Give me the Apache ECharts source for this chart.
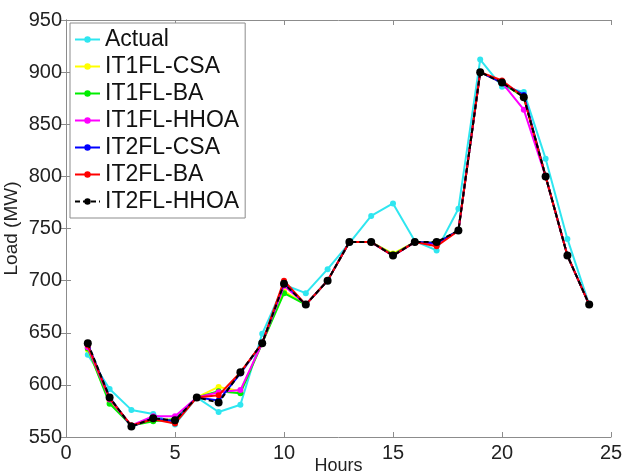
<!DOCTYPE html>
<html>
<head>
<meta charset="utf-8">
<script src="https://cdn.jsdelivr.net/npm/echarts@6/dist/echarts.min.js"></script>
<style>html,body{margin:0;padding:0;background:#fff}#c{width:624px;height:474px}</style>
</head>
<body>
<div id="c"></div>
<script>
var hours = [1,2,3,4,5,6,7,8,9,10,11,12,13,14,15,16,17,18,19,20,21,22,23,24];
var seriesNames = ['Actual','IT1FL-CSA','IT1FL-BA','IT1FL-HHOA','IT2FL-CSA','IT2FL-BA','IT2FL-HHOA'];
var actual     = [629,596,576,572,562,588,574,581,649,696,688,711,736,762,774,738,729,769,912,886,881,817,740,677];
var it1flCSA   = [634,584,561,566,567,588,598,594,640,690,677,700,737,737,726,737,736,748,900,890,876,800,724,677];
var it1flBA    = [635,582,561,565,567,588,594,592,640,688,677,700,737,737,725,737,736,748,900,890,876,800,724,677];
var it1flHHOA  = [636,586,561,570,570,588,593,595,640,695,677,700,737,737,724,737,735,748,900,890,864,800,724,677];
var it2flCSA   = [639,588,560,568,565,588,585,611,640,698,677,700,737,737,724,737,736,748,900,890,878,800,724,677];
var it2flBA    = [638,587,561,567,563,588,590,612,640,700,677,700,737,737,724,737,733,748,900,892,876,800,724,677];
var it2flHHOA  = [640,588,560,568,566,588,583,612,640,697,677,700,737,737,724,737,737,748,900,890,876,800,724,677];
var xTicks = [0,5,10,15,20,25];
var yTicks = [550,600,650,700,750,800,850,900,950];

var allData = [actual, it1flCSA, it1flBA, it1flHHOA, it2flCSA, it2flBA, it2flHHOA];
var colors = ['#2fe6f0','#ffff00','#00ee00','#ff00ff','#0000ff','#ff0000','#000000'];

function pairs(arr){ return hours.map(function(h,i){ return [h, arr[i]]; }); }

var series = allData.map(function(d, i){
  var isBlack = i === 6;
  return {
    name: seriesNames[i],
    type: 'line',
    data: pairs(d),
    symbol: 'circle',
    symbolSize: isBlack ? 8 : 6,
    itemStyle: { color: colors[i] },
    lineStyle: { color: colors[i], width: 2, type: isBlack ? [5,3] : 'solid' },
    z: 2 + i,
    animation: false
  };
});

var font = 'Liberation Sans, Arial, sans-serif';
var chart = echarts.init(document.getElementById('c'), null, {renderer: 'canvas'});
chart.setOption({
  animation: false,
  backgroundColor: '#fff',
  grid: { left: 66, right: 13, top: 20, bottom: 37, containLabel: false, outerBoundsMode: 'none' },
  legend: {
    orient: 'vertical',
    left: 70, top: 23,
    padding: [5, 6, 5, 4],
    itemWidth: 25, itemHeight: 8,
    itemGap: 4,
    backgroundColor: '#fff',
    borderColor: '#8c8c8c', borderWidth: 1,
    textStyle: { fontFamily: font, fontSize: 23, lineHeight: 23, color: '#111' },
    data: seriesNames
  },
  xAxis: [{
    type: 'value', min: 0, max: 25, interval: 5,
    name: 'Hours', nameLocation: 'middle', nameGap: 20, nameMoveOverlap: false,
    nameTextStyle: { fontFamily: font, fontSize: 18, color: '#222' },
    axisLine: { show: true, lineStyle: { color: '#8c8c8c', width: 1 } },
    axisTick: { show: true, inside: true, length: 5, lineStyle: { color: '#8c8c8c' } },
    axisLabel: { fontFamily: font, fontSize: 20, color: '#222', margin: 6,
                 formatter: function(v){ return xTicks.indexOf(v) >= 0 ? String(v) : ''; } },
    splitLine: { show: false }
  },{
    type: 'value', min: 0, max: 25, interval: 5, position: 'top',
    axisLine: { show: true, lineStyle: { color: '#8c8c8c', width: 1 } },
    axisTick: { show: true, inside: true, length: 5, lineStyle: { color: '#8c8c8c' } },
    axisLabel: { show: false }, splitLine: { show: false }
  }],
  yAxis: [{
    type: 'value', min: 550, max: 950, interval: 50,
    name: 'Load (MW)', nameLocation: 'middle', nameGap: 45, nameRotate: 90, nameMoveOverlap: false,
    nameTextStyle: { fontFamily: font, fontSize: 19, color: '#222' },
    axisLine: { show: true, lineStyle: { color: '#8c8c8c', width: 1 } },
    axisTick: { show: true, inside: true, length: 5, lineStyle: { color: '#8c8c8c' } },
    axisLabel: { fontFamily: font, fontSize: 20, color: '#222', margin: 4,
                 formatter: function(v){ return yTicks.indexOf(v) >= 0 ? String(v) : ''; } },
    splitLine: { show: false }
  },{
    type: 'value', min: 550, max: 950, interval: 50, position: 'right',
    axisLine: { show: true, lineStyle: { color: '#8c8c8c', width: 1 } },
    axisTick: { show: true, inside: true, length: 5, lineStyle: { color: '#8c8c8c' } },
    axisLabel: { show: false }, splitLine: { show: false }
  }],
  series: series
});
</script>
</body>
</html>
